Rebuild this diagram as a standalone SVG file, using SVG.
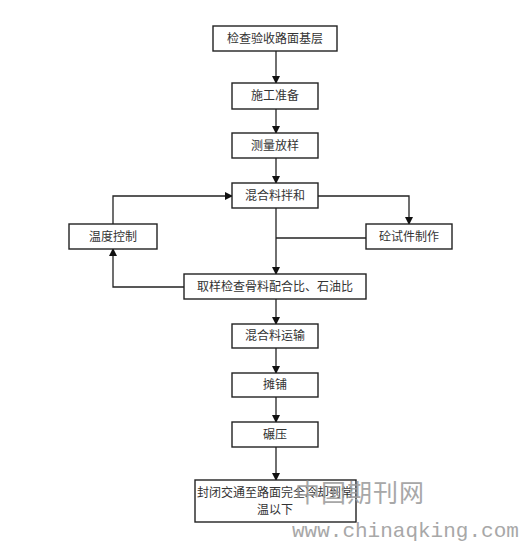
<svg xmlns="http://www.w3.org/2000/svg" width="523" height="542" viewBox="0 0 523 542">
<defs>
<marker id="ah" markerWidth="8" markerHeight="8" refX="7" refY="4" orient="auto" markerUnits="userSpaceOnUse">
<path d="M0,0 L8,4 L0,8 Z" fill="#111"/>
</marker>
<style>
.box{fill:#fff;stroke:#222;stroke-width:1.4}
.t{font-family:"Noto Sans CJK SC","Noto Sans",sans-serif;font-size:12px;fill:#333;text-anchor:middle}
.c{fill:none;stroke:#222;stroke-width:1.3}
.wm{font-family:"Noto Sans CJK SC",sans-serif;fill:#999;opacity:0.85}
</style>
</defs>
<rect width="523" height="542" fill="#fff"/>
<g id="connectors">
<line class="c" x1="276" y1="51" x2="276" y2="83" marker-end="url(#ah)"/>
<line class="c" x1="276" y1="109" x2="276" y2="133" marker-end="url(#ah)"/>
<line class="c" x1="276" y1="158" x2="276" y2="183" marker-end="url(#ah)"/>
<line class="c" x1="276" y1="208" x2="276" y2="274" marker-end="url(#ah)"/>
<line class="c" x1="276" y1="238" x2="366" y2="238"/>
<polyline class="c" points="318,196 409,196 409,224" marker-end="url(#ah)"/>
<polyline class="c" points="113,224 113,196 232,196" marker-end="url(#ah)"/>
<polyline class="c" points="184,287 113,287 113,249" marker-end="url(#ah)"/>
<line class="c" x1="276" y1="299" x2="276" y2="324" marker-end="url(#ah)"/>
<line class="c" x1="276" y1="348" x2="276" y2="373" marker-end="url(#ah)"/>
<line class="c" x1="276" y1="397" x2="276" y2="422" marker-end="url(#ah)"/>
<line class="c" x1="276" y1="447" x2="276" y2="480" marker-end="url(#ah)"/>
</g>
<g id="n1"><rect class="box" x="213" y="26" width="124" height="25"/><text class="t" x="275" y="43">检查验收路面基层</text></g>
<g id="n2"><rect class="box" x="232" y="83" width="86" height="26"/><text class="t" x="275" y="100">施工准备</text></g>
<g id="n3"><rect class="box" x="232" y="133" width="86" height="25"/><text class="t" x="275" y="150">测量放样</text></g>
<g id="n4"><rect class="box" x="232" y="183" width="86" height="25"/><text class="t" x="275" y="200">混合料拌和</text></g>
<g id="n5"><rect class="box" x="69" y="224" width="88" height="25"/><text class="t" x="113" y="241">温度控制</text></g>
<g id="n6"><rect class="box" x="366" y="224" width="86" height="25"/><text class="t" x="409" y="241">砼试件制作</text></g>
<g id="n7"><rect class="box" x="184" y="274" width="182" height="25"/><text class="t" x="275" y="291">取样检查骨料配合比、石油比</text></g>
<g id="n8"><rect class="box" x="232" y="324" width="86" height="24"/><text class="t" x="275" y="340">混合料运输</text></g>
<g id="n9"><rect class="box" x="232" y="373" width="86" height="24"/><text class="t" x="275" y="389">摊铺</text></g>
<g id="n10"><rect class="box" x="232" y="422" width="86" height="25"/><text class="t" x="275" y="439">碾压</text></g>
<g id="n11"><rect class="box" x="195" y="480" width="161" height="42"/><text class="t" x="275" y="497">封闭交通至路面完全冷却到常</text><text class="t" x="275" y="514">温以下</text></g>
<g id="watermark">
<text class="wm" x="295" y="502" font-size="25" letter-spacing="1">中国期刊网</text>
<text class="wm" x="292" y="537" font-size="21" font-family="Liberation Mono,monospace" style="font-family:'Liberation Mono',monospace">www.chinaqking.com</text>
</g>
</svg>
